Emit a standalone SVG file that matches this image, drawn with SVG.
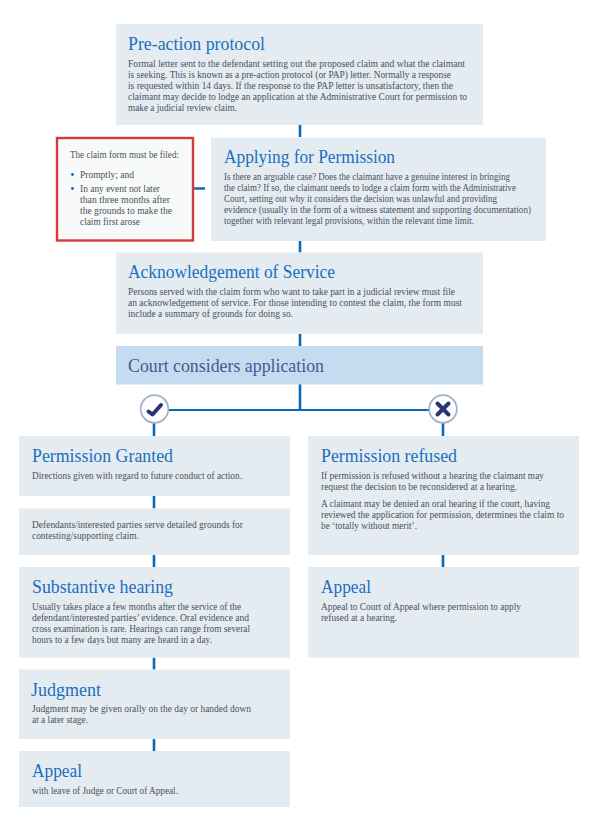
<svg xmlns="http://www.w3.org/2000/svg" width="597" height="828" viewBox="0 0 597 828">
<style>
text{font-family:"Liberation Serif","Times New Roman",serif;}
.box{fill:#e4ecf2;}
.t{font-size:19px;fill:#1a6fbd;}
.b{font-size:11px;fill:#4b5159;}
.c{fill:none;stroke:#0b69b7;stroke-width:2.6;}
.h{fill:none;stroke:#0b69b7;stroke-width:2;}
.ring{fill:#fff;stroke:#a5b2cd;stroke-width:1.8;}
.mark{fill:none;stroke:#2b3377;stroke-width:4;stroke-linecap:round;stroke-linejoin:round;}
</style>
<rect width="597" height="828" fill="#fff"/>
<g id="connectors">
<path class="c" d="M300 125V137M300 241V252.5M300 334V346M300 384V410M194 188.5H205"/>
<path class="h" d="M154 410H443"/>
<path class="c" d="M154 423V436M443 423V436M154 496V508.5M154 555V567M154 657.5V669.5M154 739V751M443 555V567"/>
</g>
<g id="pre-action">
<rect class="box" x="116" y="24" width="367" height="101"/>
<text class="t" x="128" y="50" textLength="137" lengthAdjust="spacingAndGlyphs">Pre-action protocol</text>
<text class="b" x="128" y="67" textLength="337" lengthAdjust="spacingAndGlyphs">Formal letter sent to the defendant setting out the proposed claim and what the claimant</text>
<text class="b" x="128" y="78" textLength="323" lengthAdjust="spacingAndGlyphs">is seeking. This is known as a pre-action protocol (or PAP) letter. Normally a response</text>
<text class="b" x="128" y="89" textLength="325" lengthAdjust="spacingAndGlyphs">is requested within 14 days. If the response to the PAP letter is unsatisfactory, then the</text>
<text class="b" x="128" y="100" textLength="339" lengthAdjust="spacingAndGlyphs">claimant may decide to lodge an application at the Administrative Court for permission to</text>
<text class="b" x="128" y="111" textLength="109" lengthAdjust="spacingAndGlyphs">make a judicial review claim.</text>
</g>
<g id="filing-note">
<rect x="57" y="138" width="136" height="102.500" fill="#f8fafa" stroke="#d13c3c" stroke-width="2.400"/>
<text class="b" x="70" y="158" textLength="109" lengthAdjust="spacingAndGlyphs">The claim form must be filed:</text>
<circle cx="72.500" cy="174.500" r="1.400" fill="#0b69b7"/>
<text class="b" x="80" y="178" textLength="54" lengthAdjust="spacingAndGlyphs">Promptly; and</text>
<circle cx="72.500" cy="188.500" r="1.400" fill="#0b69b7"/>
<text class="b" x="80" y="192" textLength="80" lengthAdjust="spacingAndGlyphs">In any event not later</text>
<text class="b" x="80" y="203" textLength="90" lengthAdjust="spacingAndGlyphs">than three months after</text>
<text class="b" x="80" y="214" textLength="92" lengthAdjust="spacingAndGlyphs">the grounds to make the</text>
<text class="b" x="80" y="225" textLength="60" lengthAdjust="spacingAndGlyphs">claim first arose</text>
</g>
<g id="applying">
<rect class="box" x="211" y="137.500" width="335" height="103.500"/>
<text class="t" x="224" y="163" textLength="171" lengthAdjust="spacingAndGlyphs">Applying for Permission</text>
<text class="b" x="224" y="180" textLength="286" lengthAdjust="spacingAndGlyphs">Is there an arguable case? Does the claimant have a genuine interest in bringing</text>
<text class="b" x="224" y="191" textLength="292" lengthAdjust="spacingAndGlyphs">the claim? If so, the claimant needs to lodge a claim form with the Administrative</text>
<text class="b" x="224" y="202" textLength="273" lengthAdjust="spacingAndGlyphs">Court, setting out why it considers the decision was unlawful and providing</text>
<text class="b" x="224" y="213" textLength="307" lengthAdjust="spacingAndGlyphs">evidence (usually in the form of a witness statement and supporting documentation)</text>
<text class="b" x="224" y="224" textLength="250" lengthAdjust="spacingAndGlyphs">together with relevant legal provisions, within the relevant time limit.</text>
</g>
<g id="acknowledgement">
<rect class="box" x="116" y="252.500" width="367" height="81.500"/>
<text class="t" x="128" y="278" textLength="207" lengthAdjust="spacingAndGlyphs">Acknowledgement of Service</text>
<text class="b" x="128" y="295" textLength="327" lengthAdjust="spacingAndGlyphs">Persons served with the claim form who want to take part in a judicial review must file</text>
<text class="b" x="128" y="306" textLength="334" lengthAdjust="spacingAndGlyphs">an acknowledgement of service. For those intending to contest the claim, the form must</text>
<text class="b" x="128" y="317" textLength="165" lengthAdjust="spacingAndGlyphs">include a summary of grounds for doing so.</text>
</g>
<g id="court-considers">
<rect x="116" y="346" width="367" height="38.500" fill="#c5dbf0"/>
<text x="128" y="372" font-size="19" fill="#47598f" textLength="196" lengthAdjust="spacingAndGlyphs">Court considers application</text>
</g>
<g id="granted-mark">
<circle class="ring" cx="154.500" cy="409" r="13.800"/>
<path class="mark" d="M148.500 411.500L152.500 414.500L161 405"/>
</g>
<g id="refused-mark">
<circle class="ring" cx="443" cy="409" r="13.800"/>
<path class="mark" d="M437.500 403.500L448.500 414.500M448.500 403.500L437.500 414.500"/>
</g>
<g id="permission-granted">
<rect class="box" x="19" y="436" width="271" height="60"/>
<text class="t" x="32" y="462" textLength="141" lengthAdjust="spacingAndGlyphs">Permission Granted</text>
<text class="b" x="32" y="479" textLength="210" lengthAdjust="spacingAndGlyphs">Directions given with regard to future conduct of action.</text>
</g>
<g id="detailed-grounds">
<rect class="box" x="19" y="508.500" width="271" height="46.500"/>
<text class="b" x="32" y="528" textLength="211" lengthAdjust="spacingAndGlyphs">Defendants/interested parties serve detailed grounds for</text>
<text class="b" x="32" y="539" textLength="107" lengthAdjust="spacingAndGlyphs">contesting/supporting claim.</text>
</g>
<g id="substantive-hearing">
<rect class="box" x="19" y="567" width="271" height="90.500"/>
<text class="t" x="32" y="593" textLength="141" lengthAdjust="spacingAndGlyphs">Substantive hearing</text>
<text class="b" x="32" y="609.500" textLength="209" lengthAdjust="spacingAndGlyphs">Usually takes place a few months after the service of the</text>
<text class="b" x="32" y="620.500" textLength="217" lengthAdjust="spacingAndGlyphs">defendant/interested parties’ evidence. Oral evidence and</text>
<text class="b" x="32" y="631.500" textLength="218" lengthAdjust="spacingAndGlyphs">cross examination is rare. Hearings can range from several</text>
<text class="b" x="32" y="642.500" textLength="180" lengthAdjust="spacingAndGlyphs">hours to a few days but many are heard in a day.</text>
</g>
<g id="judgment">
<rect class="box" x="19" y="669.500" width="271" height="69.500"/>
<text class="t" x="31" y="696" textLength="70" lengthAdjust="spacingAndGlyphs">Judgment</text>
<text class="b" x="32" y="712" textLength="219" lengthAdjust="spacingAndGlyphs">Judgment may be given orally on the day or handed down</text>
<text class="b" x="32" y="723" textLength="56" lengthAdjust="spacingAndGlyphs">at a later stage.</text>
</g>
<g id="appeal-left">
<rect class="box" x="19" y="751" width="271" height="56"/>
<text class="t" x="32" y="777" textLength="50" lengthAdjust="spacingAndGlyphs">Appeal</text>
<text class="b" x="32" y="794" textLength="146" lengthAdjust="spacingAndGlyphs">with leave of Judge or Court of Appeal.</text>
</g>
<g id="permission-refused">
<rect class="box" x="308" y="436" width="271" height="119"/>
<text class="t" x="321" y="462" textLength="136" lengthAdjust="spacingAndGlyphs">Permission refused</text>
<text class="b" x="321" y="479" textLength="223" lengthAdjust="spacingAndGlyphs">If permission is refused without a hearing the claimant may</text>
<text class="b" x="321" y="490" textLength="196" lengthAdjust="spacingAndGlyphs">request the decision to be reconsidered at a hearing.</text>
<text class="b" x="321" y="507" textLength="229" lengthAdjust="spacingAndGlyphs">A claimant may be denied an oral hearing if the court, having</text>
<text class="b" x="321" y="518" textLength="243" lengthAdjust="spacingAndGlyphs">reviewed the application for permission, determines the claim to</text>
<text class="b" x="321" y="529" textLength="96" lengthAdjust="spacingAndGlyphs">be ‘totally without merit’.</text>
</g>
<g id="appeal-right">
<rect class="box" x="308" y="567" width="271" height="90.500"/>
<text class="t" x="321" y="593" textLength="50" lengthAdjust="spacingAndGlyphs">Appeal</text>
<text class="b" x="321" y="609.500" textLength="200" lengthAdjust="spacingAndGlyphs">Appeal to Court of Appeal where permission to apply</text>
<text class="b" x="321" y="620.500" textLength="76" lengthAdjust="spacingAndGlyphs">refused at a hearing.</text>
</g>
</svg>
